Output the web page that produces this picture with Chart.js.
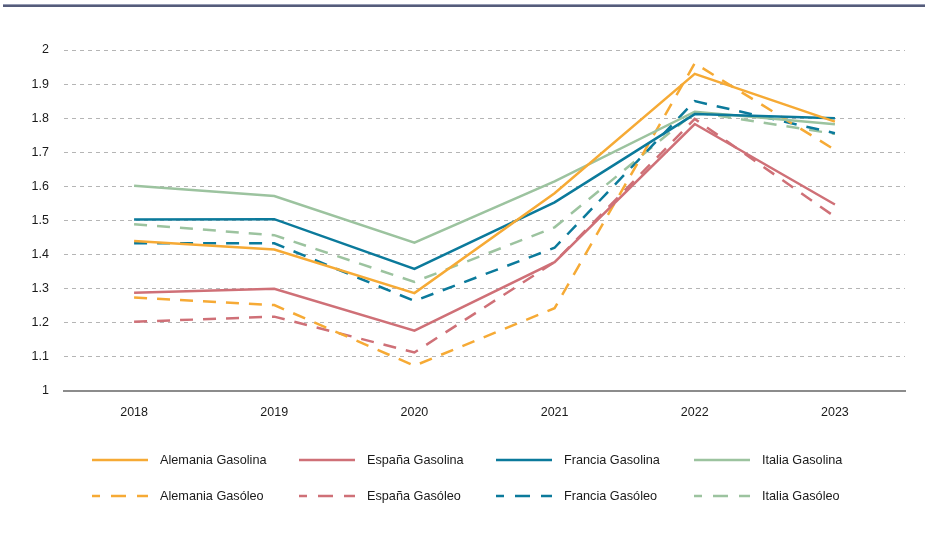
<!DOCTYPE html>
<html>
<head>
<meta charset="utf-8">
<script src="https://cdn.jsdelivr.net/npm/chart.js@4.4.0/dist/chart.umd.min.js"></script>
<style>
  html, body { margin: 0; padding: 0; background: #ffffff; }
  #wrap { width: 925px; height: 554px; position: relative; }
</style>
</head>
<body>
<div id="wrap"><canvas id="c" width="925" height="554"></canvas></div>
<script>
const years = ['2018', '2019', '2020', '2021', '2022', '2023'];
const yTicks = [1, 1.1, 1.2, 1.3, 1.4, 1.5, 1.6, 1.7, 1.8, 1.9, 2];

const seriesNames = [
  'Alemania Gasolina', 'España Gasolina', 'Francia Gasolina', 'Italia Gasolina',
  'Alemania Gasóleo', 'España Gasóleo', 'Francia Gasóleo', 'Italia Gasóleo'
];

const alemaniaGasolina = [1.44, 1.415, 1.287, 1.58, 1.93, 1.79];
const espanaGasolina   = [1.288, 1.30, 1.177, 1.378, 1.783, 1.547];
const franciaGasolina  = [1.503, 1.504, 1.358, 1.553, 1.812, 1.80];
const italiaGasolina   = [1.602, 1.572, 1.435, 1.615, 1.819, 1.782];
const alemaniaGasoleo  = [1.274, 1.252, 1.074, 1.243, 1.961, 1.707];
const espanaGasoleo    = [1.203, 1.218, 1.113, 1.378, 1.798, 1.511];
const franciaGasoleo   = [1.433, 1.433, 1.264, 1.42, 1.850, 1.756];
const italiaGasoleo    = [1.489, 1.457, 1.32, 1.48, 1.818, 1.754];

const values = [alemaniaGasolina, espanaGasolina, franciaGasolina, italiaGasolina,
                alemaniaGasoleo, espanaGasoleo, franciaGasoleo, italiaGasoleo];

const palette = ['#F6AA35', '#CF7077', '#0B7A9B', '#9CC39F'];
const DASH = [13, 10];

const datasets = values.map((v, i) => ({
  label: seriesNames[i],
  data: v,
  borderColor: palette[i % 4],
  backgroundColor: palette[i % 4],
  borderWidth: 2.5,
  borderDash: i >= 4 ? DASH : [],
  pointRadius: 0,
  pointHoverRadius: 0,
  tension: 0,
  fill: false
}));

const FAMILY = "'Liberation Sans', Arial, Helvetica, sans-serif";
const TICK_FONT = { family: FAMILY, size: 12.5 };

const topBand = {
  id: 'topBand',
  beforeDraw(chart) {
    const ctx = chart.ctx;
    ctx.save();
    ctx.fillStyle = '#ffffff';
    ctx.fillRect(0, 0, chart.width, chart.height);
    ctx.fillStyle = '#959bb3';
    ctx.fillRect(3, 4, 922, 1);
    ctx.fillStyle = '#555c7a';
    ctx.fillRect(3, 5, 922, 2);
    ctx.restore();
  }
};

const gridLegend = {
  id: 'gridLegend',
  afterDraw(chart, args, opts) {
    const ctx = chart.ctx;
    ctx.save();
    chart.data.datasets.forEach((ds, i) => {
      const x = opts.cols[i % 4];
      const y = opts.rows[Math.floor(i / 4)];
      ctx.strokeStyle = ds.borderColor;
      ctx.lineWidth = 2.5;
      const dashed = ds.borderDash && ds.borderDash.length;
      ctx.setLineDash(dashed ? opts.dash : []);
      ctx.lineDashOffset = dashed ? opts.dashOffset : 0;
      ctx.beginPath();
      ctx.moveTo(x, y);
      ctx.lineTo(x + opts.lineLen, y);
      ctx.stroke();
      ctx.setLineDash([]);
      ctx.lineDashOffset = 0;
      ctx.fillStyle = '#1a1a1a';
      ctx.font = `${opts.fontSize}px ${FAMILY}`;
      ctx.textBaseline = 'middle';
      ctx.textAlign = 'left';
      ctx.fillText(ds.label, x + opts.lineLen + opts.gap, y + 0.5);
    });
    ctx.restore();
  }
};

new Chart(document.getElementById('c'), {
  type: 'line',
  data: { labels: years, datasets },
  plugins: [topBand, gridLegend],
  options: {
    responsive: false,
    animation: false,
    devicePixelRatio: 1,
    layout: { padding: { left: 0, right: 20, top: 50, bottom: 123 } },
    plugins: {
      legend: { display: false },
      tooltip: { enabled: false },
      gridLegend: {
        cols: [92, 299, 496, 694], rows: [460, 496],
        lineLen: 56, gap: 12, fontSize: 12.7,
        dash: [15, 11], dashOffset: 7
      }
    },
    scales: {
      x: {
        offset: true,
        grid: { display: false, drawTicks: false },
        border: { display: true, color: '#8c8c8c', width: 2 },
        ticks: { color: '#1a1a1a', font: TICK_FONT, padding: 14, maxRotation: 0 },
        afterFit(scale) { scale.height = 40; }
      },
      y: {
        min: 1, max: 2,
        afterBuildTicks(scale) { scale.ticks = yTicks.map(v => ({ value: v })); },
        grid: {
          drawTicks: false,
          color: ctx => (ctx.tick && ctx.tick.value === 1) ? 'rgba(0,0,0,0)' : '#b5b5b5',
          lineWidth: 1
        },
        border: { display: false, dash: [4, 4] },
        ticks: {
          color: '#1a1a1a', font: TICK_FONT, padding: 15,
          callback: v => String(Math.round(v * 10) / 10)
        },
        afterFit(scale) { scale.width = 64; }
      }
    }
  }
});
</script>
</body>
</html>
